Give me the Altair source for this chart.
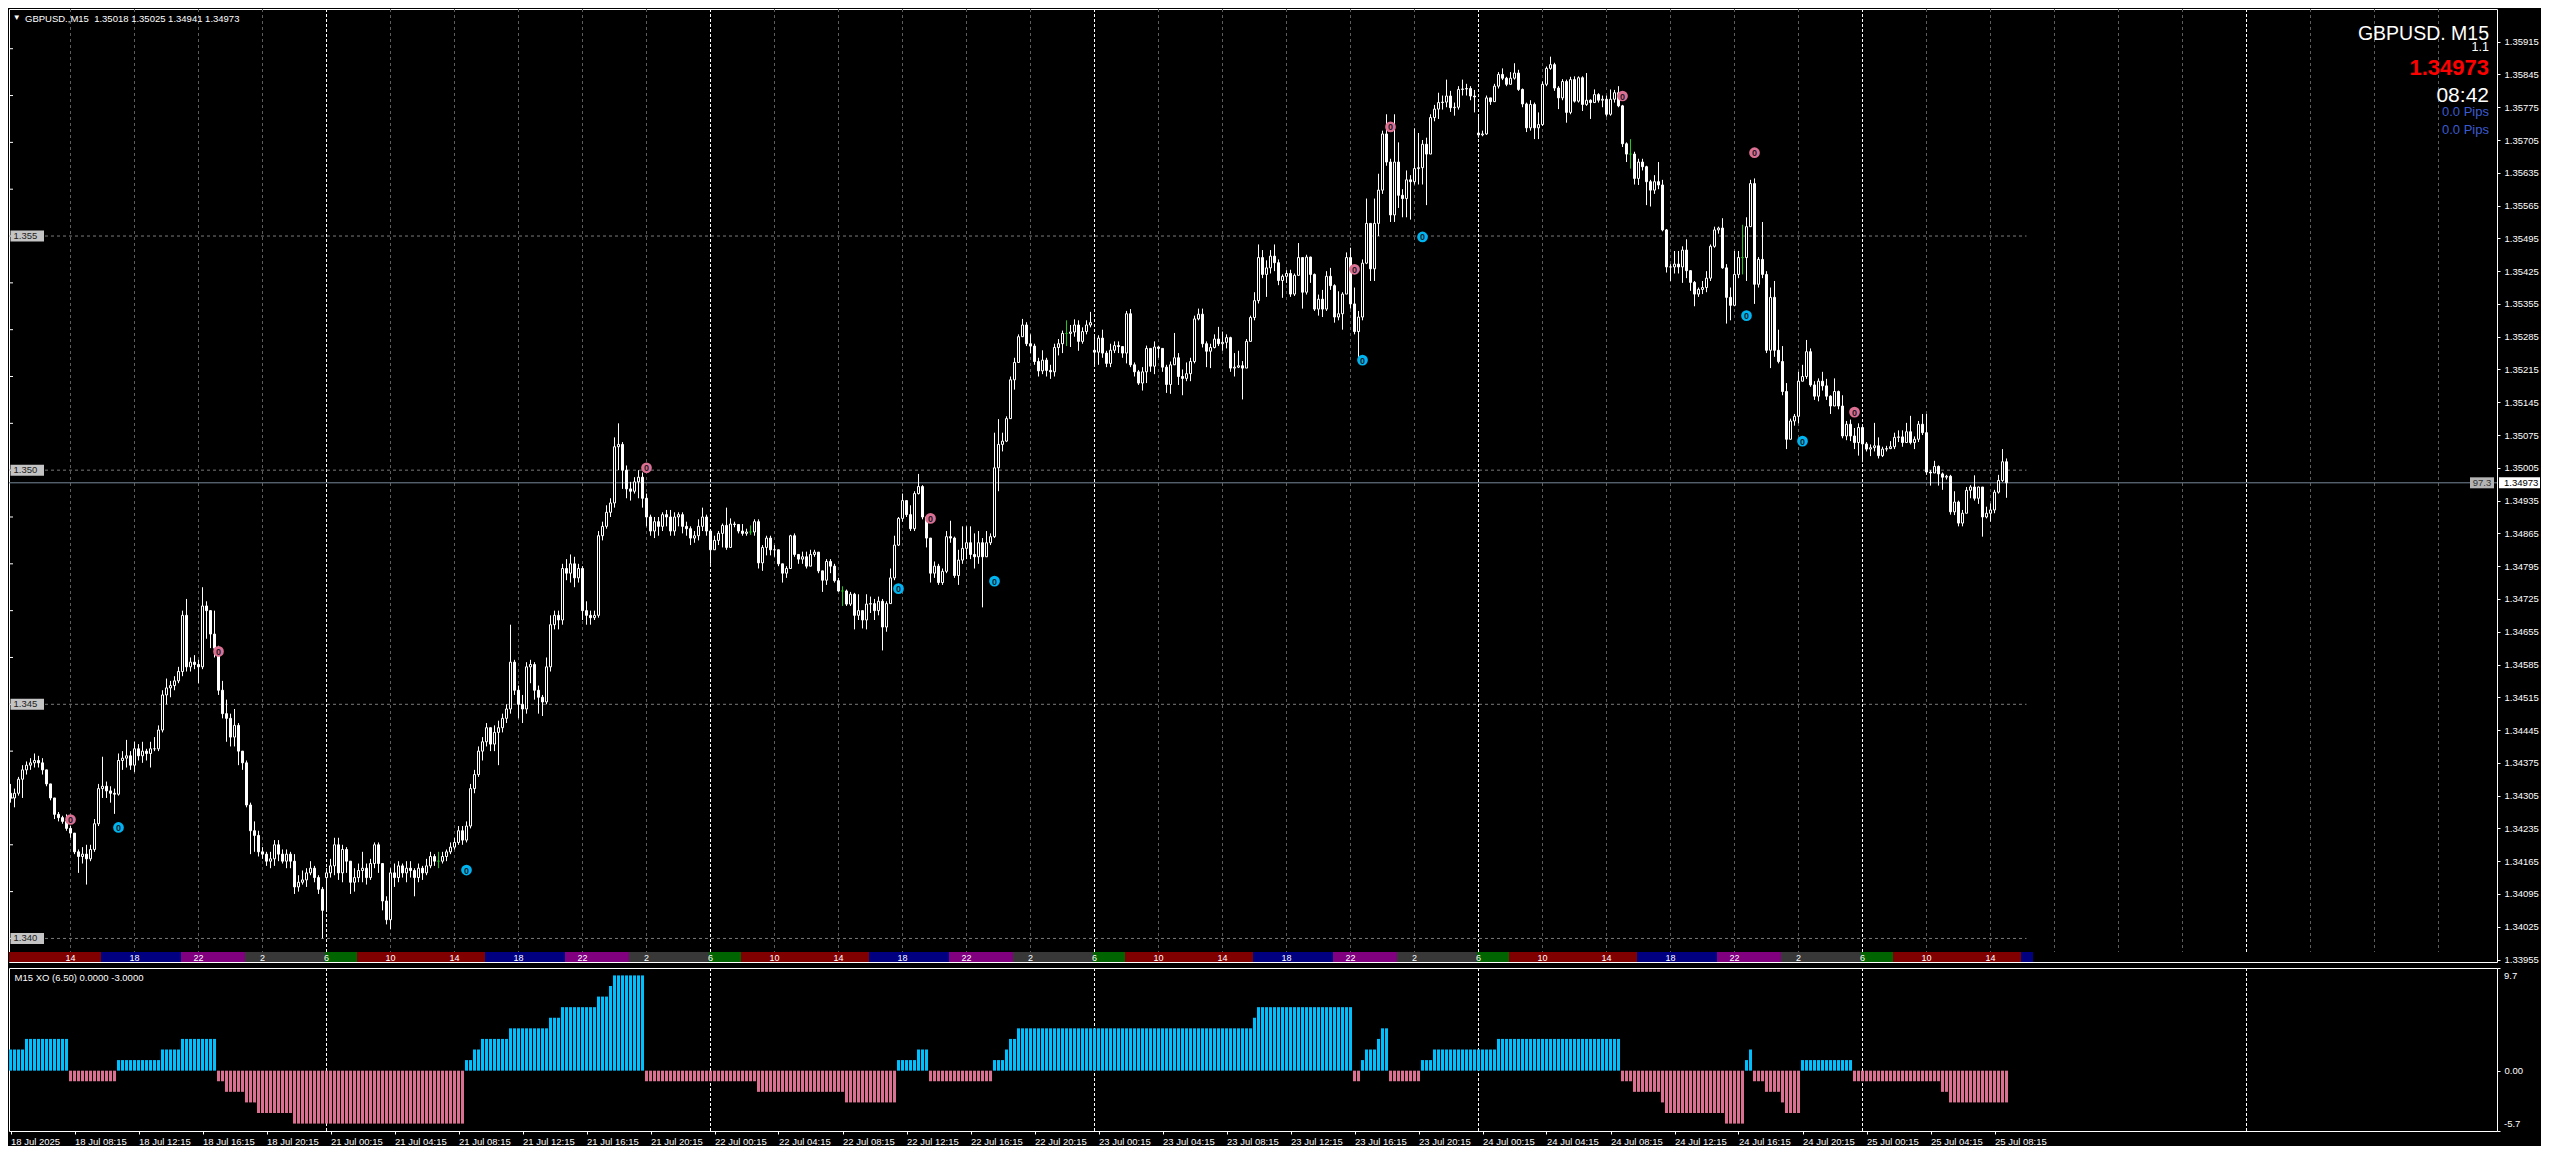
import altair as alt
import pandas as pd

# ---------------- data ----------------
# prices in points above 1.34000 (1 point = 0.00001)
close_pts = [
300,310,340,360,370,375,380,375,360,330, 300,265,258,250,235,225,185,175,180,170,
190,245,320,325,315,310,308,380,385,390, 370,405,390,400,395,405,405,445,520,535,
540,550,570,690,580,590,585,580,710,700, 650,620,530,480,470,430,455,400,375,285,
230,220,185,180,165,170,200,180,165,180, 165,110,120,125,140,150,130,105,60,140,
155,200,140,190,165,120,130,145,150,130, 160,200,160,80,40,140,130,155,140,150,
145,130,150,140,155,175,165,165,175,185, 195,205,230,210,240,320,350,400,420,450,
415,440,450,470,490,590,530,500,490,580, 585,530,515,505,580,670,690,680,790,780,
800,770,790,700,690,685,690,860,880,910, 930,1050,1055,1000,960,955,975,985,940,900,
870,890,880,905,900,870,900,905,880,875, 855,860,880,900,870,830,850,865,882,835,
885,884,870,865,868,868,890,802,835,855, 830,830,800,780,790,860,820,810,815,795,
820,825,785,765,805,795,764,742,742,714, 735,690,700,680,714,715,700,720,665,715,
770,840,897,935,905,875,950,965,900,855, 780,795,760,784,858,855,775,808,833,845,
820,815,845,815,845,858,1005,1055,1062,1110, 1193,1230,1285,1310,1270,1265,1232,1212,1235,1213,
1210,1262,1270,1292,1292,1295,1310,1275,1296,1310, 1315,1252,1282,1250,1228,1256,1266,1264,1250,1334,
1225,1210,1186,1210,1260,1222,1263,1260,1220,1183, 1225,1240,1200,1196,1206,1232,1323,1333,1270,1254,
1262,1280,1270,1273,1283,1218,1220,1223,1218,1275, 1326,1362,1454,1418,1432,1457,1443,1405,1414,1420,
1376,1416,1454,1380,1455,1418,1344,1365,1344,1414, 1394,1327,1334,1376,1454,1355,1296,1327,1442,1527,
1430,1527,1598,1718,1658,1545,1658,1587,1580,1620, 1616,1644,1646,1696,1675,1753,1771,1785,1786,1799,
1774,1775,1813,1814,1815,1799,1797,1716,1718,1795, 1787,1820,1845,1837,1824,1837,1848,1813,1782,1731,
1781,1731,1738,1824,1858,1866,1816,1795,1830,1764, 1834,1788,1838,1781,1790,1785,1802,1790,1792,1760,
1792,1806,1778,1697,1675,1675,1623,1658,1648,1616, 1598,1616,1609,1513,1434,1434,1440,1434,1470,1426,
1401,1376,1386,1390,1410,1478,1513,1517,1432,1369, 1352,1418,1454,1454,1520,1612,1397,1450,1418,1256,
1369,1256,1232,1168,1066,1105,1115,1190,1200,1253, 1182,1158,1190,1180,1158,1137,1168,1137,1073,1098,
1073,1059,1091,1056,1045,1048,1052,1031,1045,1046, 1050,1070,1071,1059,1082,1059,1066,1098,1080,996,
994,1008,992,985,987,911,932,887,908,957, 964,940,964,900,908,915,953,978,1018,973]
high_pts = [
330,320,345,370,378,385,395,390,385,360, 330,300,270,262,265,240,225,190,195,200,
200,255,330,388,335,325,320,395,400,424, 400,420,415,420,405,420,430,455,530,555,
550,560,580,700,725,600,605,595,750,720, 690,700,625,550,510,480,490,460,400,380,
290,250,230,195,185,185,210,210,190,190, 185,180,135,145,150,165,155,135,110,150,
170,215,215,200,195,165,150,160,185,160, 170,205,205,160,90,150,160,165,160,165,
165,150,160,155,170,185,180,185,185,190, 205,215,240,240,250,330,360,410,430,460,
450,455,465,480,500,670,595,540,520,590, 595,590,540,520,600,690,700,700,800,810,
820,815,800,795,720,700,700,870,890,925, 940,1070,1100,1060,1010,975,985,1000,995,950,
905,900,900,910,915,915,910,910,910,890, 880,870,895,920,905,855,860,870,886,920,
897,890,885,885,875,882,895,895,840,860, 860,840,830,800,795,862,865,820,826,826,
830,830,825,785,810,810,800,770,752,745, 740,738,735,700,735,730,725,730,725,720,
790,860,900,950,935,925,955,992,968,900, 855,805,800,790,870,892,858,830,880,880,
880,865,870,855,870,865,1080,1109,1080,1115, 1200,1240,1290,1323,1316,1290,1270,1240,1256,1240,
1225,1270,1280,1298,1320,1310,1322,1320,1305,1320, 1338,1290,1288,1300,1255,1270,1275,1275,1265,1340,
1344,1230,1214,1220,1266,1260,1275,1265,1260,1225, 1232,1293,1250,1215,1230,1240,1330,1345,1345,1275,
1270,1290,1306,1296,1290,1285,1250,1255,1233,1280, 1330,1380,1482,1470,1448,1470,1482,1450,1418,1427,
1428,1420,1485,1454,1460,1456,1420,1375,1385,1425, 1432,1397,1382,1380,1465,1475,1390,1340,1450,1580,
1527,1580,1633,1725,1760,1665,1760,1700,1600,1640, 1630,1730,1720,1705,1710,1760,1780,1806,1800,1834,
1810,1785,1820,1834,1825,1820,1812,1757,1725,1800, 1795,1825,1850,1858,1840,1850,1869,1855,1815,1785,
1790,1785,1764,1830,1862,1883,1870,1820,1835,1834, 1840,1841,1841,1841,1848,1792,1813,1805,1800,1800,
1813,1812,1820,1780,1700,1707,1680,1665,1665,1650, 1620,1630,1658,1620,1515,1440,1468,1468,1478,1493,
1425,1404,1390,1404,1425,1482,1520,1520,1538,1440, 1390,1468,1468,1524,1540,1620,1623,1455,1530,1425,
1390,1404,1300,1265,1186,1110,1120,1210,1225,1278, 1260,1190,1196,1210,1195,1160,1196,1170,1160,1105,
1108,1090,1100,1073,1060,1055,1101,1070,1050,1052, 1062,1080,1085,1085,1101,1116,1072,1105,1120,1120,
1000,1020,1010,995,990,990,955,935,915,964, 968,989,965,950,922,929,958,990,1045,1025]
low_pts = [
290,280,305,300,350,360,365,365,350,325, 295,255,250,245,230,215,180,140,160,115,
165,185,240,300,300,290,266,305,360,365, 360,355,380,375,380,365,400,400,440,500,
515,530,545,560,570,570,575,545,575,640, 620,600,520,470,420,410,410,370,360,280,
180,185,175,170,155,150,155,165,160,150, 150,95,100,115,110,135,120,95,0,60,
130,135,125,120,140,95,100,120,120,115, 125,150,140,60,30,20,110,120,130,120,
130,90,120,125,135,150,155,150,160,165, 180,190,200,200,205,235,310,345,380,410,
400,400,370,440,460,480,520,470,460,480, 545,510,480,475,500,570,660,660,670,765,
760,750,760,680,670,670,680,685,850,875, 900,920,1000,960,940,935,950,940,920,880,
860,855,860,870,880,860,860,880,865,860, 840,845,850,870,860,800,830,840,835,830,
878,878,865,860,860,862,860,790,785,818, 818,815,795,760,770,790,815,800,800,790,
795,815,780,740,755,780,760,740,710,710, 710,660,680,662,660,695,680,690,615,655,
715,765,838,890,900,870,870,948,895,835, 760,770,755,755,780,845,770,755,800,810,
810,790,800,707,815,840,855,955,1040,1060, 1110,1172,1230,1285,1265,1250,1225,1200,1205,1200,
1195,1200,1245,1250,1265,1263,1285,1255,1270,1290, 1305,1225,1225,1240,1220,1220,1250,1250,1240,1228,
1220,1200,1182,1170,1186,1210,1205,1240,1210,1165, 1163,1225,1182,1160,1190,1190,1228,1320,1262,1220,
1218,1260,1265,1255,1260,1210,1200,1218,1151,1220, 1275,1320,1356,1410,1370,1420,1425,1395,1368,1400,
1370,1372,1418,1345,1375,1400,1340,1330,1327,1340, 1385,1315,1320,1300,1376,1345,1290,1242,1320,1440,
1404,1404,1500,1590,1650,1530,1530,1560,1540,1540, 1535,1610,1610,1610,1566,1675,1745,1750,1770,1775,
1765,1757,1770,1800,1800,1790,1764,1710,1713,1716, 1780,1795,1815,1833,1820,1827,1834,1810,1775,1722,
1725,1707,1707,1735,1820,1855,1810,1771,1790,1742, 1760,1785,1785,1767,1778,1750,1785,1785,1775,1755,
1757,1785,1775,1690,1658,1644,1610,1609,1640,1566, 1563,1590,1600,1510,1422,1404,1420,1420,1400,1410,
1383,1350,1370,1376,1380,1404,1475,1505,1430,1313, 1320,1350,1410,1418,1404,1520,1355,1390,1410,1250,
1218,1242,1228,1160,1045,1066,1095,1100,1190,1195, 1178,1150,1147,1170,1150,1120,1137,1130,1068,1064,
1062,1045,1031,1017,1040,1030,1040,1025,1028,1040, 1045,1045,1060,1050,1075,1055,1045,1060,1075,990,
967,995,967,958,980,905,904,880,880,908, 940,935,928,858,897,890,908,950,975,941]
first_open_pts = 310
gap_bars = [79, 271, 367]
gap_open_pts = [130, 1256, 1720]
doji_bars = [107, 185, 208, 264, 405, 433]

# XO histogram, as runs of equal value
xo_run_values = [2,3,-1,1,2,3,-1,-2,-3,-4,-5,1,2,3,4,5,6,7,8,9,-1,-2,-3,1,2,-1,1,2,3,4,5,6,
                 -1,1,2,3,4,-1,1,2,3,-1,-2,-3,-4,-5,1,2,-1,-2,-3,-4,1,-1,-2,-3]
xo_run_lengths = [4,11,12,11,5,9,2,5,3,9,43,2,2,7,10,3,9,3,1,8,28,22,13,5,3,16,3,1,2,59,1,24,
                  2,1,3,1,2,8,3,16,31,3,7,1,15,5,1,1,3,4,1,4,13,22,2,15]

# signal circles
signal_bars = [15, 27, 52, 114, 159, 222, 230, 246, 336, 338, 345, 353, 403, 434, 436, 448, 461]
signal_pts = [254, 237, 613, 146, 1005, 747, 897, 763, 1429, 1235, 1733, 1498, 1799, 1330, 1678, 1062, 1124]
signal_kind = ['dn','up','dn','up','dn','up','dn','up','dn','up','dn','up','dn','up','dn','up','dn']

# session strip
sess_start = [0,23,43,59,79,87,119,139,155,175,183,215,235,251,271,279,311,331,347,367,375,407,427,443,463,471,503]
sess_end = [22,42,58,78,86,118,138,154,174,182,214,234,250,270,278,310,330,346,366,374,406,426,442,462,470,502,505]
sess_name = ['red','blue','purple','gray','green']*5 + ['red','blue']
sess_label_bars = [15+16*k for k in range(31)]
sess_labels = ['14','18','22','2','6','10']*5 + ['14']

# axes
price_ticks = [1.35915,1.35845,1.35775,1.35705,1.35635,1.35565,1.35495,1.35425,1.35355,1.35285,
               1.35215,1.35145,1.35075,1.35005,1.34935,1.34865,1.34795,1.34725,1.34655,1.34585,
               1.34515,1.34445,1.34375,1.34305,1.34235,1.34165,1.34095,1.34025,1.33955]
time_label_bars = [16*k for k in range(32)]
time_labels = ['18 Jul 2025','18 Jul 08:15','18 Jul 12:15','18 Jul 16:15','18 Jul 20:15',
               '21 Jul 00:15','21 Jul 04:15','21 Jul 08:15','21 Jul 12:15','21 Jul 16:15','21 Jul 20:15',
               '22 Jul 00:15','22 Jul 04:15','22 Jul 08:15','22 Jul 12:15','22 Jul 16:15','22 Jul 20:15',
               '23 Jul 00:15','23 Jul 04:15','23 Jul 08:15','23 Jul 12:15','23 Jul 16:15','23 Jul 20:15',
               '24 Jul 00:15','24 Jul 04:15','24 Jul 08:15','24 Jul 12:15','24 Jul 16:15','24 Jul 20:15',
               '25 Jul 00:15','25 Jul 04:15','25 Jul 08:15']
grid_bars = [15+16*k for k in range(38)]
day_bars = [79, 175, 271, 367, 463, 559]
level_prices = [1.340, 1.345, 1.350, 1.355]
level_labels = ['1.340', '1.345', '1.350', '1.355']
left_tick_prices = [round(1.340 + 0.001*k, 3) for k in range(20)]
last_price = 1.34973

# ---------------- layout ----------------
W, H1, H2 = 2488, 953, 163
XD = [-0.375, 621.625]
PD = [1.339497, 1.359848]
FONT = 'Liberation Sans'
xs = alt.Scale(domain=XD, nice=False, zero=False)
ps = alt.Scale(domain=PD, nice=False, zero=False)
iscale = alt.Scale(domain=[-5.7, 9.7], nice=False, zero=False)

yaxis = alt.Axis(orient='right', values=price_ticks, format='.5f', labelColor='white', labelFont=FONT,
                 labelFontSize=9.5, tickColor='white', tickSize=3, labelPadding=4, domain=False,
                 grid=False, title=None, labelOverlap=False, labelFlush=False, labelBound=False)


def PX(f):
    return alt.X(f, type='quantitative', scale=xs, axis=None)


def PY(f):
    return alt.Y(f, type='quantitative', scale=ps, axis=yaxis)


def P(v):
    return round(1.34 + v * 1e-5, 5)


# candles
n = len(close_pts)
opens = [first_open_pts] + close_pts[:-1]
for b, o in zip(gap_bars, gap_open_pts):
    opens[b] = o
rows = []
for i in range(n):
    o = opens[i]
    c = close_pts[i]
    h = max(high_pts[i], o, c)
    l = min(low_pts[i], o, c)
    if i in doji_bars:
        fill, stroke, wick = '#1ec81e', '#1ec81e', '#1ec81e'
    elif c > o:
        fill, stroke, wick = '#000000', '#ffffff', '#ffffff'
    else:
        fill, stroke, wick = '#ffffff', '#ffffff', '#ffffff'
    rows.append(dict(i=i, x0=i - 0.25, x1=i + 0.25, o=P(o), c=P(c), h=P(h), l=P(l),
                     fill=fill, stroke=stroke, wick=wick))
cdf = pd.DataFrame(rows)

wicks = alt.Chart(cdf).mark_rule(strokeWidth=1).encode(
    x=PX('i'), y=PY('l'), y2='h', color=alt.Color('wick:N', scale=None))
bodies = alt.Chart(cdf).mark_rect(strokeWidth=1).encode(
    x=PX('x0'), x2='x1', y=PY('o'), y2='c',
    fill=alt.Fill('fill:N', scale=None), stroke=alt.Stroke('stroke:N', scale=None))

gdf = pd.DataFrame({'bar': [b for b in grid_bars if b not in day_bars]})
grid = alt.Chart(gdf).mark_rule(color='#5c5c5c', strokeDash=[3, 3], strokeWidth=1).encode(
    x=PX('bar'), y=alt.value(0), y2=alt.value(H1 - 10))
ddf = pd.DataFrame({'bar': day_bars})
days = alt.Chart(ddf).mark_rule(color='#ffffff', strokeDash=[3, 2], strokeWidth=1).encode(
    x=PX('bar'), y=alt.value(0), y2=alt.value(H1 - 10))

ldf = pd.DataFrame({'price': level_prices, 'lab': level_labels, 'x0': -0.375, 'x1': 504})
levels = alt.Chart(ldf).mark_rule(color='#7a7a7a', strokeDash=[3, 3], strokeWidth=1).encode(
    x=PX('x0'), x2='x1', y=PY('price'))
pline = alt.Chart(pd.DataFrame({'price': [last_price]})).mark_rule(color='#778899', strokeWidth=1).encode(
    x=alt.value(0), x2=alt.value(W), y=PY('price'))

ltdf = pd.DataFrame({'price': left_tick_prices})
lticks = alt.Chart(ltdf).mark_rule(color='white', strokeWidth=1).encode(
    x=alt.value(0), x2=alt.value(4), y=PY('price'))


def box_path(w, h):
    r = h / w
    return 'M-1,%.4fL1,%.4fL1,%.4fL-1,%.4fZ' % (-r, -r, r, r), w * w


lp, ls = box_path(33.5, 11)
lbox = alt.Chart(ldf).mark_point(shape=lp, size=ls, filled=True, opacity=1, color='#c4c4c4').encode(
    x=alt.value(18.25), y=PY('price'))
ltxt = alt.Chart(ldf).mark_text(align='left', baseline='middle', font=FONT, fontSize=9.5,
                                color='#222222').encode(x=alt.value(4.5), y=PY('price'), text='lab:N')

bp, bs = box_path(24, 11)
pdf = pd.DataFrame({'price': [last_price], 'lab': ['97.3'], 'lab2': ['1.34973']})
box97 = alt.Chart(pdf).mark_point(shape=bp, size=bs, filled=True, opacity=1, color='#b4b4b4').encode(
    x=alt.value(W - 15), y=PY('price'))
txt97 = alt.Chart(pdf).mark_text(align='center', baseline='middle', font=FONT, fontSize=9.5,
                                 color='#333333').encode(x=alt.value(W - 15), y=PY('price'), text='lab:N')
rp, rs = box_path(41, 11)
boxr = alt.Chart(pdf).mark_point(shape=rp, size=rs, filled=True, opacity=1, color='#ffffff').encode(
    x=alt.value(W + 22.5), y=PY('price'))
txtr = alt.Chart(pdf).mark_text(align='left', baseline='middle', font=FONT, fontSize=9.5,
                                color='#000000').encode(x=alt.value(W + 7), y=PY('price'), text='lab2:N')

sdf = pd.DataFrame({'bar': signal_bars, 'price': [P(v) for v in signal_pts], 'kind': signal_kind})
sdf['col'] = sdf['kind'].map({'dn': '#db7093', 'up': '#00b4f0'})
sdf['t'] = '0'
sig_c = alt.Chart(sdf).mark_point(shape='circle', filled=True, size=115, opacity=1).encode(
    x=PX('bar'), y=PY('price'), color=alt.Color('col:N', scale=None))
sig_t = alt.Chart(sdf).mark_text(font=FONT, fontSize=9, fontWeight='bold', color='#1a1a2a',
                                 baseline='middle', align='center', dy=0.5).encode(
    x=PX('bar'), y=PY('price'), text='t:N')

sess_cols = {'red': '#800000', 'blue': '#000080', 'purple': '#800080', 'gray': '#383838', 'green': '#006400'}
ssdf = pd.DataFrame({'s0': [s - 0.375 for s in sess_start], 's1': [e + 0.625 for e in sess_end],
                     'col': [sess_cols[k] for k in sess_name]})
sess = alt.Chart(ssdf).mark_rect().encode(
    x=PX('s0'), x2='s1', y=alt.value(H1 - 10), y2=alt.value(H1), fill=alt.Fill('col:N', scale=None))
sldf = pd.DataFrame({'bar': sess_label_bars, 'lab': sess_labels})
sesst = alt.Chart(sldf).mark_text(font=FONT, fontSize=9, color='white', align='center',
                                  baseline='middle').encode(x=PX('bar'), y=alt.value(H1 - 4.5), text='lab:N')


def label(txt, x, y, size, color='white', align='left', weight='normal', baseline='alphabetic'):
    return alt.Chart(pd.DataFrame({'t': [txt]})).mark_text(
        font=FONT, fontSize=size, color=color, align=align, fontWeight=weight, baseline=baseline
    ).encode(x=alt.value(x), y=alt.value(y), text='t:N')


hdr = [
    label('\u25BC', 7.7, 9, 8, align='center', baseline='middle'),
    label('GBPUSD.,M15 \u00a01.35018 1.35025 1.34941 1.34973', 16, 13, 9.5),
    label('GBPUSD. M15', W - 8, 31.3, 19.5, align='right'),
    label('1.1', W - 8, 42, 12.5, align='right'),
    label('1.34973', W - 8, 66.3, 22, color='#ff0000', align='right', weight='bold'),
    label('08:42', W - 8, 93, 21, align='right'),
    label('0.0 Pips', W - 8, 106.5, 13, color='#3b5bd0', align='right'),
    label('0.0 Pips', W - 8, 124.5, 13, color='#3b5bd0', align='right'),
]

main = alt.layer(grid, days, levels, pline, lticks, wicks, bodies, sig_c, sig_t, sess, sesst,
                 lbox, ltxt, box97, txt97, boxr, txtr, *hdr).properties(width=W, height=H1)

# ---------------- indicator ----------------
xo_vals = []
for v, k in zip(xo_run_values, xo_run_lengths):
    xo_vals += [v] * k
xdf = pd.DataFrame({'i': range(len(xo_vals)), 'v': xo_vals})
xdf['x0'] = xdf['i'] - 0.375
xdf['x1'] = xdf['i'] + 0.375
xdf['zero'] = 0
xdf['col'] = ['#00bfff' if v > 0 else '#db7093' for v in xo_vals]

expr = '[' + ','.join("'%s'" % t for t in time_labels) + '][round(datum.value/16)]'
xaxis = alt.Axis(values=time_label_bars, labelExpr=expr, labelAlign='left', labelColor='white',
                 labelFont=FONT, labelFontSize=9.5, tickColor='white', tickSize=3, labelPadding=2,
                 domain=False, grid=False, title=None, labelOverlap=False, labelFlush=False,
                 labelBound=False)
iyaxis = alt.Axis(orient='right', values=[9.7, 0, -5.7], labelExpr="datum.value == 0 ? '0.00' : ''",
                  labelColor='white', labelFont=FONT, labelFontSize=9.5, tickColor='white', tickSize=3,
                  labelPadding=4, domain=False, grid=False, title=None)

ibars = alt.Chart(xdf).mark_rect().encode(
    x=alt.X('x0:Q', scale=xs, axis=xaxis), x2='x1',
    y=alt.Y('zero:Q', scale=iscale, axis=iyaxis), y2='v', fill=alt.Fill('col:N', scale=None))
idays = alt.Chart(ddf).mark_rule(color='#ffffff', strokeDash=[3, 2], strokeWidth=1).encode(
    x=alt.X('bar:Q', scale=xs, axis=xaxis), y=alt.value(0), y2=alt.value(H2))
ititle = label('M15 XO (6.50) 0.0000 -3.0000', 5.6, 13, 9.5)
itop = label('9.7', W + 7, 3, 9.5, baseline='top')
ibot = label('-5.7', W + 7, H2 - 2, 9.5, baseline='bottom')

ind = alt.layer(idays, ibars, ititle, itop, ibot).properties(width=W, height=H2)

chart = alt.vconcat(main, ind, spacing=2).properties(padding=0, background='black').configure_view(
    stroke='white', strokeWidth=1)

chart.save('out.html', embed_options={'renderer': 'svg', 'actions': False})
